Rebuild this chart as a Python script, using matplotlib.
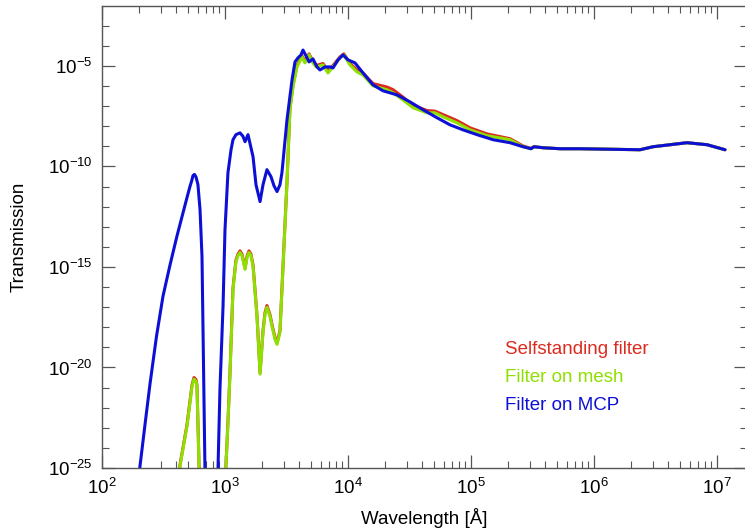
#!/usr/bin/env python3
"""Filter transmission vs wavelength for three filter mountings."""

import matplotlib

matplotlib.use("Agg")

import matplotlib.pyplot as plt
import numpy as np
from matplotlib.ticker import FixedLocator, FuncFormatter, NullFormatter

# log10(wavelength / Angstrom) and log10(transmission)
mcp_logwl = [2.285, 2.309, 2.350, 2.390, 2.443, 2.496, 2.553, 2.610, 2.659, 2.691, 2.715,
             2.730, 2.740, 2.752, 2.764, 2.780, 2.797, 2.813, 2.837, 2.846, 2.886, 2.935,
             2.943, 2.959, 2.984, 3.000, 3.024, 3.049, 3.065, 3.089, 3.122, 3.146, 3.163,
             3.187, 3.228, 3.252, 3.285, 3.309, 3.341, 3.374, 3.398, 3.423, 3.447, 3.463,
             3.504, 3.545, 3.569, 3.593, 3.618, 3.634, 3.667, 3.683, 3.715, 3.748, 3.772,
             3.813, 3.854, 3.878, 3.919, 3.959, 4.000, 4.057, 4.122, 4.203, 4.285, 4.398,
             4.504, 4.610, 4.724, 4.829, 4.935, 5.049, 5.179, 5.317, 5.423, 5.488, 5.512,
             5.585, 5.724, 5.886, 6.374, 6.480, 6.756, 6.919, 7.065]
mcp_logt = [-26.04, -24.90, -22.82, -20.83, -18.45, -16.45, -14.90, -13.45, -12.30, -11.55, -11.00,
            -10.70, -10.45, -10.40, -10.52, -10.90, -12.15, -14.48, -25.05, -26.29, -31.5, -26.29,
            -25.05, -21.08, -16.96, -13.14, -10.31, -9.17, -8.67, -8.42, -8.33, -8.50, -8.77,
            -8.42, -9.52, -10.91, -11.75, -10.91, -10.16, -10.51, -10.96, -11.25, -10.91, -10.31,
            -7.68, -5.69, -4.80, -4.60, -4.45, -4.21, -4.60, -4.80, -4.65, -5.05, -5.20,
            -5.05, -5.05, -5.10, -4.70, -4.45, -4.70, -4.85, -5.35, -5.94, -6.24, -6.44,
            -6.79, -7.18, -7.58, -7.93, -8.18, -8.42, -8.67, -8.82, -9.02, -9.12, -9.02,
            -9.07, -9.12, -9.12, -9.17, -9.02, -8.82, -8.92, -9.17]

mesh_logwl = [2.618, 2.634, 2.691, 2.732, 2.748, 2.764, 2.772, 2.789, 2.797, 2.894, 3.000,
              3.008, 3.024, 3.041, 3.065, 3.089, 3.106, 3.122, 3.138, 3.163, 3.179, 3.195,
              3.211, 3.228, 3.260, 3.285, 3.309, 3.325, 3.341, 3.366, 3.382, 3.407, 3.423,
              3.447, 3.472, 3.504, 3.528, 3.553, 3.585, 3.626, 3.650, 3.683, 3.715, 3.740,
              3.797, 3.837, 3.878, 3.935, 3.967, 4.016, 4.073, 4.122, 4.203, 4.317, 4.366,
              4.447, 4.528, 4.642, 4.707, 4.772, 4.886, 4.992, 5.130, 5.317, 5.423, 5.488,
              5.512, 5.585, 5.724, 5.886, 6.374, 6.480, 6.756, 6.919, 7.065]
mesh_logt = [-26.04, -24.90, -22.92, -20.93, -20.58, -20.68, -20.93, -24.90, -26.04, -32.5, -26.04,
             -24.90, -22.77, -20.24, -16.12, -14.73, -14.43, -14.28, -14.43, -15.12, -14.53, -14.28,
             -14.43, -14.98, -17.46, -20.33, -18.25, -17.36, -17.01, -17.46, -17.95, -18.60, -18.85,
             -18.25, -14.98, -10.81, -7.18, -6.04, -5.05, -4.55, -4.85, -4.45, -4.85, -5.05,
             -4.95, -5.35, -5.05, -4.60, -4.45, -4.95, -5.30, -5.45, -5.99, -6.19, -6.34,
             -6.69, -7.08, -7.33, -7.33, -7.53, -7.83, -8.18, -8.47, -8.67, -9.02, -9.12,
             -9.02, -9.07, -9.12, -9.12, -9.17, -9.02, -8.82, -8.92, -9.17]

self_logwl = mesh_logwl
self_logt = [-26.00, -24.85, -22.85, -20.86, -20.50, -20.60, -20.86, -24.85, -26.00, -32.5, -26.00,
             -24.85, -22.70, -20.17, -16.05, -14.66, -14.36, -14.20, -14.36, -15.05, -14.46, -14.20,
             -14.36, -14.90, -17.40, -20.25, -18.17, -17.28, -16.92, -17.38, -17.87, -18.52, -18.77,
             -18.17, -14.90, -10.75, -7.10, -5.95, -4.98, -4.50, -4.78, -4.40, -4.78, -4.98,
             -4.88, -5.25, -4.98, -4.55, -4.40, -4.88, -5.20, -5.35, -5.88, -6.05, -6.18,
             -6.55, -6.95, -7.22, -7.25, -7.42, -7.72, -8.08, -8.38, -8.62, -8.98, -9.10,
             -9.02, -9.07, -9.12, -9.12, -9.17, -9.02, -8.82, -8.92, -9.17]

labels = ["Selfstanding filter", "Filter on mesh", "Filter on MCP"]
colors = ["#dc2a1e", "#8fe000", "#0c10d6"]

plt.rcParams["font.family"] = ["Liberation Sans", "DejaVu Sans"]
plt.rcParams["mathtext.default"] = "regular"

W, H = 745, 531
fig = plt.figure(figsize=(W / 100, H / 100), dpi=100)
x0, x1, y0, y1 = 102, 747, 6, 468
ax = fig.add_axes([x0 / W, 1 - y1 / H, (x1 - x0) / W, (y1 - y0) / H])

series = [(self_logwl, self_logt), (mesh_logwl, mesh_logt), (mcp_logwl, mcp_logt)]
for (lw, lt), col in zip(series, colors):
    ax.plot(10 ** np.array(lw), 10 ** np.array(lt), color=col, lw=2.2,
            solid_joinstyle="round", solid_capstyle="round")

ax.set_xscale("log")
ax.set_yscale("log")
ax.set_xlim(1e2, 10 ** (2 + (x1 - x0) / 123))
ax.set_ylim(1e-25, 10 ** -2.02)

ax.xaxis.set_major_locator(FixedLocator([10.0 ** k for k in range(2, 8)]))
ax.xaxis.set_minor_locator(FixedLocator([m * 10.0 ** k for k in range(2, 8) for m in range(2, 10)]))
ax.yaxis.set_major_locator(FixedLocator([10.0 ** k for k in (-25, -20, -15, -10, -5)]))
ax.yaxis.set_minor_locator(FixedLocator([10.0 ** k for k in range(-25, -1) if k % 5]))
fmt = FuncFormatter(lambda v, _: f"$10^{{{int(round(np.log10(v)))}}}$")
ax.xaxis.set_major_formatter(fmt)
ax.yaxis.set_major_formatter(fmt)
ax.xaxis.set_minor_formatter(NullFormatter())
ax.yaxis.set_minor_formatter(NullFormatter())

for sp in ax.spines.values():
    sp.set_color("#555555")
    sp.set_linewidth(1.0)
ax.tick_params(which="both", direction="in", top=True, right=True, colors="#555555",
               labelcolor="black", labelsize=13.5)
ax.tick_params(which="major", length=9.5, width=0.9, pad=7)
ax.tick_params(which="minor", length=5, width=0.8)

ax.set_xlabel("Wavelength [Å]", fontsize=13.5, labelpad=7)
ax.set_ylabel("Transmission", fontsize=13.5, labelpad=14)

for i, (lab, col) in enumerate(zip(labels, colors)):
    ax.text(505 / W, 1 - (350 + 28 * i) / H, lab, color=col, fontsize=13.5,
            transform=fig.transFigure, ha="left", va="center")

fig.savefig("out.png", dpi=100)
